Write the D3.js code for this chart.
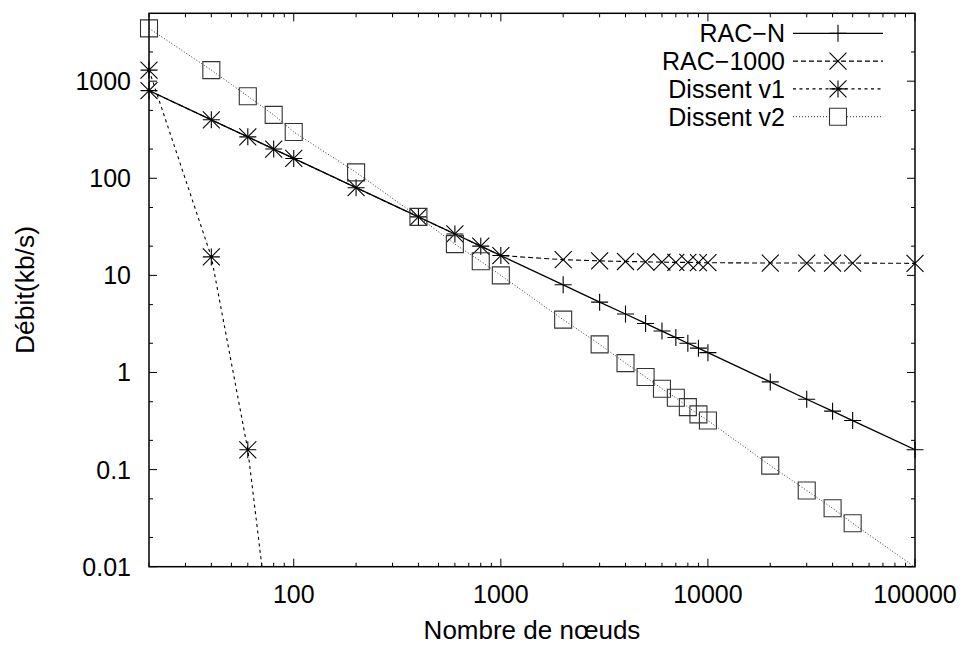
<!DOCTYPE html>
<html>
<head>
<meta charset="utf-8">
<script src="https://cdn.jsdelivr.net/npm/d3@7"></script>
<style>
  body { margin: 0; background: #fff; }
  svg { display: block; }
  text { font-family: "Liberation Sans", Arial, Helvetica, sans-serif; fill: #000; }
</style>
</head>
<body>
<svg id="chart"></svg>
<script>
// data
const nodes = [20, 40, 60, 80, 100, 200, 400, 600, 800, 1000, 2000, 3000, 4000, 5000, 6000, 7000, 8000, 9000, 10000, 20000, 30000, 40000, 50000, 100000];
const racN = [800, 400, 267, 200, 160, 80, 40, 26.7, 20, 16, 8, 5.3, 4, 3.2, 2.67, 2.29, 2, 1.78, 1.6, 0.8, 0.53, 0.4, 0.32, 0.16];
const rac1000 = [800, 400, 267, 200, 160, 80, 40, 26.7, 20, 16, 14.5, 14.1, 13.9, 13.8, 13.7, 13.6, 13.6, 13.5, 13.5, 13.4, 13.4, 13.4, 13.4, 13.3];
const dissentV1Nodes = [20, 40, 60, 80];
const dissentV1 = [1300, 15.5, 0.16, 0.001];
const dissentV2 = [3500, 1300, 700, 450, 300, 115, 40, 21, 14, 10, 3.5, 1.95, 1.25, 0.9, 0.68, 0.55, 0.44, 0.37, 0.32, 0.11, 0.061, 0.04, 0.028, 0.0099];

const seriesNames = ['RAC\u2212N', 'RAC\u22121000', 'Dissent v1', 'Dissent v2'];
const xTickLabels = [100, 1000, 10000, 100000];
const yTickLabels = [0.01, 0.1, 1, 10, 100, 1000];

var width = 965, height = 645;
var pLeft = 149, pRight = 915, pTop = 13.3, pBottom = 566.7;

const svg = d3.select('#chart').attr('width', width).attr('height', height);

var xs = d3.scaleLog().domain([20, 100000]).range([pLeft, pRight]);
var ys = d3.scaleLog().domain([0.01, 5000]).range([pBottom, pTop]);

// minor ticks
var xMinor = [], yMinor = [];
[10, 100, 1000, 10000].forEach(dec => {
    for (let k = 2; k <= 9; k++) if (dec * k >= 20 && dec * k <= 100000) xMinor.push(dec * k);
});
[0.01, 0.1, 1, 10, 100, 1000].forEach(dec => {
    [2, 5].forEach(k => { if (dec * k < 5000) yMinor.push(dec * k); });
});

const axes = svg.append('g').attr('stroke', '#000').attr('stroke-width', 1);
xTickLabels.forEach(v => {
    axes.append('line').attr('x1', xs(v)).attr('x2', xs(v)).attr('y1', pBottom).attr('y2', pBottom - 8);
    axes.append('line').attr('x1', xs(v)).attr('x2', xs(v)).attr('y1', pTop).attr('y2', pTop + 8);
});
xMinor.forEach(v => {
    axes.append('line').attr('x1', xs(v)).attr('x2', xs(v)).attr('y1', pBottom).attr('y2', pBottom - 4);
    axes.append('line').attr('x1', xs(v)).attr('x2', xs(v)).attr('y1', pTop).attr('y2', pTop + 4);
});
yTickLabels.forEach(v => {
    axes.append('line').attr('x1', pLeft).attr('x2', pLeft + 8).attr('y1', ys(v)).attr('y2', ys(v));
    axes.append('line').attr('x1', pRight).attr('x2', pRight - 8).attr('y1', ys(v)).attr('y2', ys(v));
});
yMinor.forEach(v => {
    axes.append('line').attr('x1', pLeft).attr('x2', pLeft + 4).attr('y1', ys(v)).attr('y2', ys(v));
    axes.append('line').attr('x1', pRight).attr('x2', pRight - 4).attr('y1', ys(v)).attr('y2', ys(v));
});

svg.selectAll('.xlab').data(xTickLabels).enter().append('text')
    .attr('x', d => xs(d)).attr('y', 603)
    .attr('text-anchor', 'middle').style('font-size', '25px')
    .text(d => d);
svg.selectAll('.ylab').data(yTickLabels).enter().append('text')
    .attr('x', 131).attr('y', d => ys(d)).attr('dy', '0.36em')
    .attr('text-anchor', 'end').style('font-size', '25px')
    .text(d => d);

svg.append('text').attr('x', (pLeft + pRight) / 2).attr('y', 639)
    .attr('text-anchor', 'middle').style('font-size', '26px').text('Nombre de n\u0153uds');
svg.append('text').attr('transform', `translate(34,${(pTop + pBottom) / 2}) rotate(-90)`)
    .attr('text-anchor', 'middle').style('font-size', '26.5px').text('D\u00e9bit(kb/s)');

svg.append('clipPath').attr('id', 'clip').append('rect')
    .attr('x', pLeft).attr('y', pTop).attr('width', pRight - pLeft).attr('height', pBottom - pTop);

// markers
var s = 8.5;
const markerPath = {
    plus: `M${-s},0H${s}M0,${-s}V${s}`,
    cross: `M${-s},${-s}L${s},${s}M${-s},${s}L${s},${-s}`,
    star: `M${-s},0H${s}M0,${-s}V${s}M${-s},${-s}L${s},${s}M${-s},${s}L${s},${-s}`,
    square: `M${-s},${-s}H${s}V${s}H${-s}Z`
};

const series = [
    { name: seriesNames[0], xv: nodes, yv: racN, dash: null, color: '#000', lw: 1.3, mk: 'plus', mc: '#000' },
    { name: seriesNames[1], xv: nodes, yv: rac1000, dash: '5,3', color: '#000', lw: 1.1, mk: 'cross', mc: '#000' },
    { name: seriesNames[2], xv: dissentV1Nodes, yv: dissentV1, dash: '3,3.5', color: '#000', lw: 1.1, mk: 'star', mc: '#000' },
    { name: seriesNames[3], xv: nodes, yv: dissentV2, dash: '1,2', color: '#333', lw: 1, mk: 'square', mc: '#333' }
];

var line = d3.line().x(d => xs(d[0])).y(d => ys(d[1]));

series.forEach(sr => {
    const pts = sr.xv.map((x, i) => [x, sr.yv[i]]);
    svg.append('path').datum(pts)
        .attr('clip-path', 'url(#clip)')
        .attr('d', line)
        .attr('fill', 'none')
        .attr('stroke', sr.color)
        .attr('stroke-width', sr.lw)
        .attr('stroke-dasharray', sr.dash);
    const inside = pts.filter(p => p[1] >= 0.01 && p[1] <= 5000);
    svg.append('g').selectAll('path').data(inside).enter().append('path')
        .attr('transform', d => `translate(${xs(d[0])},${ys(d[1])})`)
        .attr('d', markerPath[sr.mk])
        .attr('fill', 'none')
        .attr('stroke', sr.mc)
        .attr('stroke-width', 1.1);
});

// legend
const legend = svg.selectAll('.legend').data(series).enter().append('g')
    .attr('class', 'legend')
    .attr('transform', (d, i) => `translate(0,${33.3 + i * 27.8})`);
legend.append('text').attr('x', 785).attr('dy', '0.36em')
    .attr('text-anchor', 'end').style('font-size', '25px').text(d => d.name);
legend.append('line').attr('x1', 793).attr('x2', 883)
    .attr('stroke', d => d.color).attr('stroke-width', d => d.lw)
    .attr('stroke-dasharray', d => d.dash);
legend.append('path').attr('transform', 'translate(838,0)')
    .attr('d', d => markerPath[d.mk]).attr('fill', d => d.mk === 'square' ? '#fff' : 'none')
    .attr('stroke', d => d.mc).attr('stroke-width', 1.1);

// frame
svg.append('rect').attr('x', pLeft).attr('y', pTop).attr('width', pRight - pLeft).attr('height', pBottom - pTop)
    .attr('fill', 'none').attr('stroke', '#000').attr('stroke-width', 1.5);
</script>
</body>
</html>
